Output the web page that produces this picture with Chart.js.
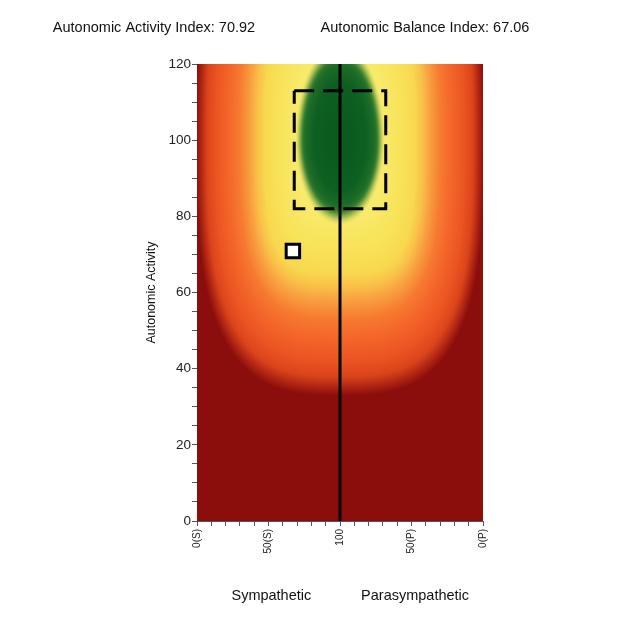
<!DOCTYPE html>
<html><head><meta charset="utf-8">
<script src="https://cdn.jsdelivr.net/npm/chart.js@4.4.1/dist/chart.umd.min.js"></script>
<style>html,body{margin:0;padding:0;background:#fff}#wrap{width:633px;height:642px;position:relative}</style>
</head><body><div id="wrap"><canvas id="c"></canvas></div>
<script>
// ---- data ----
const activityIndex = 70.92;          // y of the marker
const balanceIndex = 67.06;           // x of the marker
const xTickValues = [0, 50, 100, 150, 200];
const xTickLabels = ['0(S)', '50(S)', '100', '50(P)', '0(P)'];
const yTickValues = [0, 20, 40, 60, 80, 100, 120];
const normalRangeX = [68, 132];
const normalRangeY = [82, 113];
const balanceLineX = 100;
const innerCenter = [100, 100];
const outerCenter = [100, 100];
const xRegionTitles = ['Sympathetic', 'Parasympathetic'];
const xRegionCenters = [52, 152.5];
const headerTexts = ['Autonomic Activity Index: ' + activityIndex.toFixed(2), 'Autonomic Balance Index: ' + balanceIndex.toFixed(2)];

// ---- styling of the background field ----
const FONT = '"Liberation Sans", Arial, sans-serif';
const innerRatio = 1.4;
const innerUpStretch = 1.15;
const outerRatio = 1.5;
const outerStops = [
  [0, '#f8ee7c'], [20, '#f8ea6a'], [29, '#f8e258'], [35, '#f8d84e'], [38.5, '#f9c048'], [42, '#f8a040'],
  [47, '#f67a30'], [52, '#f4662a'], [58, '#ea5422'], [62, '#da441a'], [64.5, '#b42814'], [67, '#8c0e0c'], [400, '#8a0c0b']
];
const innerStops = [[0, '#0a581c'], [13, '#0d5f22'], [17, '#1c6c27'], [21, '#4a8c34'], [400, '#4a8c34']];
function toRGB(stops) {
  return stops.map(s => [s[0], parseInt(s[1].slice(1,3),16), parseInt(s[1].slice(3,5),16), parseInt(s[1].slice(5,7),16)]);
}
const outerRGB = toRGB(outerStops), innerRGB = toRGB(innerStops);
function ramp(st, d) {
  for (let k = 1; k < st.length; k++) {
    if (d <= st[k][0]) {
      const a = st[k-1], b = st[k];
      const t = (d - a[0]) / (b[0] - a[0]);
      return [a[1] + (b[1]-a[1])*t, a[2] + (b[2]-a[2])*t, a[3] + (b[3]-a[3])*t];
    }
  }
  const l = st[st.length-1];
  return [l[1], l[2], l[3]];
}
function pnorm(a, b, p) { return Math.pow(Math.pow(a, p) + Math.pow(b, p), 1 / p); }
function fieldColor(xv, yv) {
  const ox = Math.abs(xv - outerCenter[0]) / outerRatio, oy = Math.abs(yv - outerCenter[1]);
  const d3 = pnorm(ox, oy, 3), d4 = pnorm(ox, oy, 3.6);
  let t = (d3 - 36) / 16; t = t < 0 ? 0 : t > 1 ? 1 : t;
  const c = ramp(outerRGB, d4 * (1 - t) + d3 * t);
  const ix = (xv - innerCenter[0]) / innerRatio;
  let iy = yv - innerCenter[1];
  if (iy > 0) iy /= innerUpStretch;
  const di = Math.sqrt(ix*ix + iy*iy);
  let a = (22.5 - di) / 4.5; a = a < 0 ? 0 : a > 1 ? 1 : a;
  a = a * a * (3 - 2 * a);
  if (a > 0) {
    const g = ramp(innerRGB, di);
    return [c[0]*(1-a) + g[0]*a, c[1]*(1-a) + g[1]*a, c[2]*(1-a) + g[2]*a];
  }
  return c;
}

const heatPlugin = {
  id: 'heat',
  beforeDatasetsDraw(chart) {
    const {ctx, chartArea: a, scales: {x, y}} = chart;
    const w = Math.round(a.right - a.left), h = Math.round(a.bottom - a.top);
    const off = document.createElement('canvas'); off.width = w; off.height = h;
    const octx = off.getContext('2d');
    const img = octx.createImageData(w, h);
    for (let j = 0; j < h; j++) {
      const yv = y.getValueForPixel(a.top + j + 0.5);
      for (let i = 0; i < w; i++) {
        const xv = x.getValueForPixel(a.left + i + 0.5);
        const c = fieldColor(xv, yv);
        const p = (j*w + i) * 4;
        img.data[p] = c[0]; img.data[p+1] = c[1]; img.data[p+2] = c[2]; img.data[p+3] = 255;
      }
    }
    octx.putImageData(img, 0, 0);
    ctx.drawImage(off, a.left, a.top, a.right - a.left, a.bottom - a.top);
  }
};

const textPlugin = {
  id: 'texts',
  afterDraw(chart) {
    const {ctx, scales: {x}} = chart;
    ctx.save();
    ctx.fillStyle = '#111';
    ctx.textAlign = 'center';
    ctx.textBaseline = 'middle';
    ctx.font = '14.5px ' + FONT;
    ctx.fillText(headerTexts[0], 154, 28);
    ctx.fillText(headerTexts[1], 425, 28);
    xRegionTitles.forEach((t, i) => ctx.fillText(t, x.getPixelForValue(xRegionCenters[i]), 596));
    ctx.restore();
  }
};

const rectPts = [
  {x: normalRangeX[0], y: normalRangeY[1]}, {x: normalRangeX[1], y: normalRangeY[1]},
  {x: normalRangeX[1], y: normalRangeY[0]}, {x: normalRangeX[0], y: normalRangeY[0]},
  {x: normalRangeX[0], y: normalRangeY[1]}
];

new Chart(document.getElementById('c'), {
  type: 'scatter',
  data: {
    datasets: [
      {type: 'scatter', data: [{x: balanceIndex, y: activityIndex}], pointStyle: 'rect', pointRadius: 9.5,
        backgroundColor: '#ffffff', borderColor: '#000000', borderWidth: 3, order: 0},
      {type: 'line', data: [{x: balanceLineX, y: 0}, {x: balanceLineX, y: 120}], borderColor: '#000000',
        borderWidth: 3, pointRadius: 0, order: 2},
      {type: 'line', data: rectPts, borderColor: '#000000', borderWidth: 3, borderDash: [20, 9],
        pointRadius: 0, order: 1, borderJoinStyle: 'miter'}
    ]
  },
  options: {
    responsive: true, maintainAspectRatio: false, animation: false,
    layout: {padding: {top: 64, right: 150, bottom: 0, left: 0}},
    plugins: {legend: {display: false}, tooltip: {enabled: false}},
    scales: {
      x: {
        type: 'linear', min: 0, max: 200,
        afterFit(s) { s.height = 121; },
        afterBuildTicks(s) { const t = []; for (let v = 0; v <= 200; v += 10) t.push({value: v}); s.ticks = t; },
        ticks: {autoSkip: false, minRotation: 90, maxRotation: 90, padding: 3, color: '#222',
          font: {family: FONT, size: 10},
          callback: v => { const k = xTickValues.indexOf(v); return k >= 0 ? xTickLabels[k] : ''; }},
        grid: {drawOnChartArea: false, drawTicks: true, tickLength: 5, color: '#555'},
        border: {display: true, color: '#555'}
      },
      y: {
        type: 'linear', min: 0, max: 120,
        afterFit(s) { s.width = 197; },
        afterBuildTicks(s) { const t = []; for (let v = 0; v <= 120; v += 5) t.push({value: v}); s.ticks = t; },
        ticks: {autoSkip: false, padding: 1, color: '#222', font: {family: FONT, size: 13.5},
          callback: v => yTickValues.includes(v) ? String(v) : ''},
        grid: {drawOnChartArea: false, drawTicks: true, tickLength: 5, color: '#555'},
        border: {display: true, color: '#555'},
        title: {display: true, text: 'Autonomic Activity', color: '#111', font: {family: FONT, size: 12.5},
          padding: {top: 144, bottom: 0}}
      }
    }
  },
  plugins: [heatPlugin, textPlugin]
});
</script>
</body></html>
